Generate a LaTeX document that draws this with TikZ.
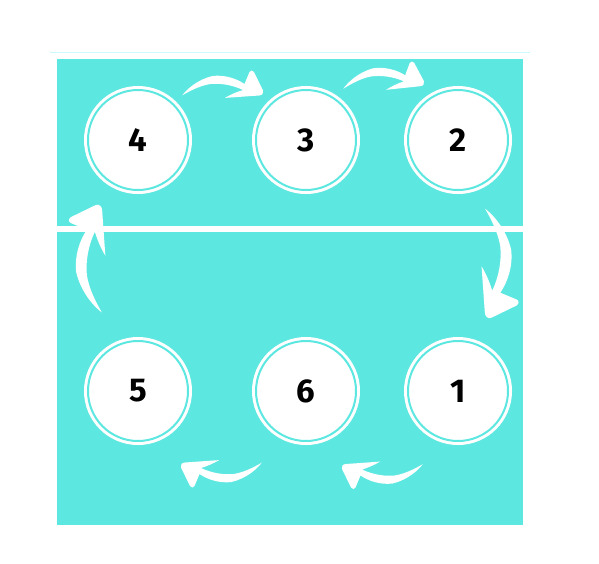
\documentclass[tikz,border=0pt]{standalone}
\usepackage{fontspec}
\setmainfont{Fira Sans}
\definecolor{teal1}{RGB}{93,231,225}
\definecolor{faint}{RGB}{205,250,250}
\tikzset{
  ringnode/.style={circle, minimum size=100pt, inner sep=0pt, outer sep=0pt,
    fill=white, draw=white, double=teal1, double distance=2pt, line width=3pt,
    font=\fontsize{33}{33}\selectfont\bfseries, text=black},
  pics/bentarrow/.style={code={
    \fill[white] (-40.2,1.8) .. controls (-36,-4) and (-25,-14) .. (-10,-17.5)
      .. controls (2,-19) and (14,-15) .. (22,-9.5)
      -- (27,-21.5) .. controls (28,-23.5) and (30,-23.5) .. (31.5,-21.5)
      -- (40.5,-3) .. controls (41.8,-0.5) and (39.5,2) .. (36.5,2)
      -- (2.5,4.4) .. controls (8,1) and (14,-1.5) .. (20.5,-3.5)
      .. controls (10,-8.5) and (-2,-10.5) .. (-12,-9.5)
      .. controls (-22,-8) and (-32,-3) .. (-40.2,1.8) -- cycle;
  }}
}
\begin{document}
\begin{tikzpicture}[x=1pt,y=-1pt]
\useasboundingbox (0,0) rectangle (599,563);
\fill[white] (0,0) rectangle (599,563);
\draw[faint, line width=1pt] (50,52) -- (530,52);
\fill[teal1] (57,59) rectangle (523,525);
\draw[white, line width=6pt] (57,229) -- (523,229);
\node[ringnode] (n4) at (138,140) {4};
\node[ringnode] (n3) at (306,140) {3};
\node[ringnode] (n2) at (458,140) {2};
\node[ringnode] (n5) at (138,391) {5};
\node[ringnode] (n6) at (306,391) {6};
\node[ringnode] (n1) at (458,391) {1};
\pic at (222.5,93.5) {bentarrow};
\pic[rotate=2] at (383.5,85.5) {bentarrow};
\pic[rotate=-90, scale=1.35] at (487.5,263) {bentarrow};
\pic[rotate=180] at (382.5,466) {bentarrow};
\pic[rotate=180] at (221.5,464.5) {bentarrow};
\pic[rotate=90, scale=1.33] at (99.5,259) {bentarrow};
\end{tikzpicture}
\end{document}
